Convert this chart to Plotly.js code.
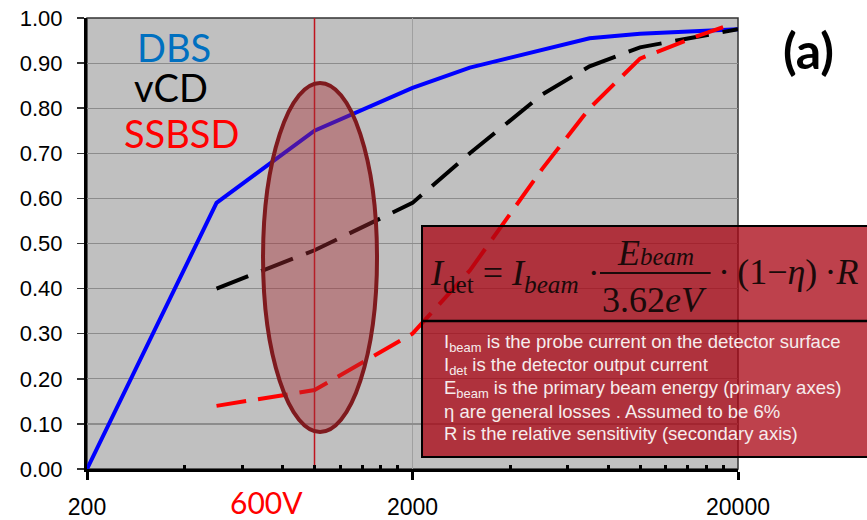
<!DOCTYPE html>
<html>
<head>
<meta charset="utf-8">
<script src="https://cdn.plot.ly/plotly-3.0.1.min.js"></script>
<style>html,body{margin:0;padding:0;background:#fff;}#chart{width:867px;height:520px;}</style>
</head>
<body>
<div id="chart"></div>
<script>
// ---- data ----
const dbsX = [200, 500, 1000, 2000, 3000, 5000, 7000, 10000, 20000];
const dbsY = [0.00, 0.59, 0.75, 0.845, 0.89, 0.93, 0.955, 0.965, 0.975];
const vcdX = [500, 1000, 2000, 3000, 5000, 7000, 10000, 20000];
const vcdY = [0.40, 0.485, 0.59, 0.70, 0.83, 0.893, 0.935, 0.975];
const ssbsdX = [500, 1000, 2000, 3000, 5000, 7000, 10000, 15000, 18000];
const ssbsdY = [0.14, 0.175, 0.30, 0.44, 0.665, 0.80, 0.91, 0.96, 0.98];
const markerX = [1000, 1000];
const markerY = [0, 1];
const xTickVals = [200, 2000, 20000];
const xTickText = ["200", "2000", "20000"];
const xMinorVals = [400, 600, 800, 1000, 1200, 1400, 1600, 1800, 4000, 6000, 8000, 10000, 12000, 14000, 16000, 18000];
const seriesNames = ["DBS", "vCD", "SSBSD"];
const legendText = [
  "I<sub>beam</sub> is the probe current on the detector surface",
  "I<sub>det</sub> is the detector output current",
  "E<sub>beam</sub> is the primary beam energy (primary axes)",
  "η are general losses . Assumed to be 6%",
  "R is the relative sensitivity (secondary axis)"
];

const traces = [
  {x: dbsX, y: dbsY, mode: 'lines', line: {color: '#0000FF', width: 4}, name: seriesNames[0]},
  {x: vcdX, y: vcdY, mode: 'lines', line: {color: '#000000', width: 4, dash: '34px,14px'}, name: seriesNames[1]},
  {x: ssbsdX, y: ssbsdY, mode: 'lines', line: {color: '#FF0000', width: 4, dash: '30px,12px'}, name: seriesNames[2]},
  {x: markerX, y: markerY, mode: 'lines', line: {color: '#C0141E', width: 1.5}, name: '600V'}
];

const serif = 'Liberation Serif, Times New Roman, serif';
const lblY = [0.2794, 0.2284, 0.1774, 0.1286, 0.0798];
const annotations = [
  {text: seriesNames[0], x: 0.133, y: 0.936, font: {family: 'Lato', size: 38, color: '#0070C0'}},
  {text: seriesNames[1], x: 0.1285, y: 0.847, font: {family: 'Lato', size: 38, color: '#000000'}},
  {text: seriesNames[2], x: 0.1444, y: 0.745, font: {family: 'Lato', size: 38, color: '#FF0000'}},
  {text: '<b>(a)</b>', x: 1.109, y: 0.93, font: {family: 'Lato', size: 50, color: '#000000'}},
  {text: '600V', x: 0.275, y: -0.074, font: {family: 'Lato', size: 30, color: '#FF0000'}},
  {text: '<i>I</i><sub>det</sub> = <i>I</i><sub><i>beam</i></sub> ·', x: 0.5238, y: 0.43, xanchor: 'left',
   font: {family: serif, size: 36, color: '#1a0a0a'}},
  {text: '<i>E</i><span style="font-size:25px"><i>beam</i></span>', x: 0.874, y: 0.478, font: {family: serif, size: 36, color: '#1a0a0a'}},
  {text: '3.62<i>eV</i>', x: 0.8725, y: 0.3747, font: {family: serif, size: 36, color: '#1a0a0a'}},
  {text: '·\u2009(1−<i>η</i>)\u2009·<i>R</i>', x: 0.966, y: 0.4368, xanchor: 'left', font: {family: serif, size: 36, color: '#1a0a0a'}}
];
legendText.forEach((t, i) => annotations.push({
  text: t, x: 0.5453, y: lblY[i], xanchor: 'left', font: {family: 'Liberation Sans, Arial', size: 18.5, color: '#F6ECEC'}
}));
annotations.forEach(a => { a.xref = 'paper'; a.yref = 'paper'; a.showarrow = false; if (!a.xanchor) a.xanchor = 'center'; a.yanchor = 'middle'; });

const shapes = [
  {type: 'circle', xref: 'paper', yref: 'paper', x0: 0.2704, x1: 0.4455, y0: 0.082, y1: 0.856,
   fillcolor: 'rgba(170,45,52,0.42)', line: {color: '#7F1A1E', width: 4}, layer: 'above'},
  {type: 'rect', xref: 'paper', yref: 'paper', x0: 0.5146, x1: 1.205, y0: 0.0266, y1: 0.5388,
   fillcolor: 'rgba(170,5,20,0.76)', line: {color: '#000000', width: 2}, layer: 'above'},
  {type: 'line', xref: 'paper', yref: 'paper', x0: 0.5146, x1: 1.205, y0: 0.3282, y1: 0.3282,
   line: {color: '#000000', width: 2.5}, layer: 'above'},
  {type: 'line', xref: 'paper', yref: 'paper', x0: 0.788, x1: 0.958, y0: 0.4346, y1: 0.4346,
   line: {color: '#1a0a0a', width: 2}, layer: 'above'},
  {type: 'rect', xref: 'paper', yref: 'paper', x0: 0, x1: 1, y0: 0, y1: 1,
   line: {color: '#333333', width: 1.5}, layer: 'below'}
];

const layout = {
  width: 867, height: 520,
  margin: {l: 87, r: 129, t: 18, b: 51},
  paper_bgcolor: '#FFFFFF', plot_bgcolor: '#C0C0C0',
  showlegend: false,
  font: {family: 'Liberation Sans, Arial', size: 20, color: '#000'},
  xaxis: {
    type: 'log', range: [Math.log10(200), Math.log10(20000)],
    tickmode: 'array', tickvals: xTickVals, ticktext: xTickText,
    ticks: 'outside', ticklen: 8, tickwidth: 3, tickcolor: '#000',
    showline: true, linecolor: '#000', linewidth: 3,
    showgrid: true, gridcolor: '#A0A0A0', gridwidth: 1.5,
    zeroline: false, ticklabelstandoff: 7,
    tickfont: {family: 'Liberation Sans, Arial', size: 23, color: '#000'},
    minor: {tickmode: 'array', tickvals: xMinorVals, ticks: 'inside', ticklen: 4, tickwidth: 3, tickcolor: '#000', showgrid: false}
  },
  yaxis: {
    range: [0, 1], tickmode: 'linear', tick0: 0, dtick: 0.1, tickformat: '.2f',
    ticks: 'outside', ticklen: 7, tickwidth: 1.5, tickcolor: '#333',
    showline: true, linecolor: '#000', linewidth: 3,
    showgrid: true, gridcolor: '#8C8C8C', gridwidth: 1.2,
    zeroline: false, ticklabelstandoff: 10,
    tickfont: {family: 'Liberation Sans, Arial', size: 22, color: '#000'}
  },
  annotations: annotations,
  shapes: shapes
};

Plotly.newPlot('chart', traces, layout, {staticPlot: true, displayModeBar: false});
</script>
</body>
</html>
